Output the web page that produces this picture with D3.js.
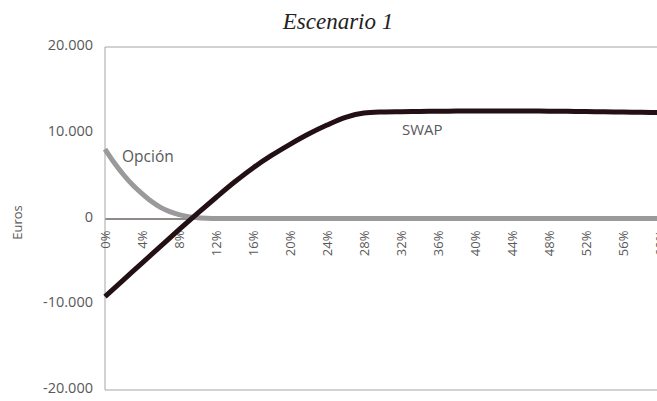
<!DOCTYPE html>
<html><head><meta charset="utf-8">
<script src="https://cdn.jsdelivr.net/npm/d3@7"></script>
<style>body{margin:0;background:#fff}svg{display:block}</style>
</head><body>
<script>
const rates = [0,2,4,6,8,10,12,14,16,18,20,22,24,26,28,30,32,34,36,38,40,42,44,46,48,50,52,54,56,58,60];
const swap = [-9100,-7150,-5200,-3250,-1300,600,2450,4250,5900,7350,8650,9850,10900,11800,12300,12420,12460,12490,12510,12530,12540,12550,12550,12540,12520,12500,12470,12440,12410,12380,12350];
const opcionRates = [0,1,2,3,4,5,6,7,8,9,10,11,12,14,20,30,40,50,60];
const opcion = [8100,6500,5100,3900,2900,2000,1300,800,450,220,90,30,0,0,0,0,0,0,0];
const xTicks = [0,4,8,12,16,20,24,28,32,36,40,44,48,52,56,60];
const yTicks = [-20000,-10000,0,10000,20000];

const W=657,H=401;
const svg=d3.select("body").append("svg").attr("width",W).attr("height",H);
const x=d3.scaleLinear().domain([0,60]).range([105,660]);
const y=d3.scaleLinear().domain([-20000,20000]).range([390,47]);
const font="'Open Sans', sans-serif";
const fmt=v=>v===0?"0":(v<0?"-":"")+d3.format(",")(Math.abs(v)).replace(/,/g,".");

svg.append("text").attr("x",338).attr("y",29).attr("text-anchor","middle")
  .attr("font-family","'Liberation Serif', serif").attr("font-style","italic")
  .attr("font-size",23).attr("fill","#222").text("Escenario 1");

// frame
svg.append("path").attr("d",`M${W},${y(20000)}H${x(0)}V${y(-20000)}H${W}`)
  .attr("fill","none").attr("stroke","#a6a6a6").attr("stroke-width",1);

// y labels
svg.append("g").selectAll("text").data(yTicks).join("text")
  .attr("x",93).attr("y",d=>y(d)-2).attr("dy","0.35em").attr("text-anchor","end")
  .attr("font-family",font).attr("font-size",14.5).attr("fill","#595959").text(fmt);

svg.append("text").attr("transform",`translate(17,${y(0)+4}) rotate(-90)`)
  .attr("text-anchor","middle").attr("dy","0.35em").attr("font-family",font)
  .attr("font-size",13).attr("fill","#595959").text("Euros");

// zero axis
const xAxis=d3.axisBottom(x).tickValues(xTicks).tickSize(0).tickFormat(d=>d+"%");
const gx=svg.append("g").attr("transform",`translate(0,${y(0)})`).call(xAxis);
gx.select(".domain").attr("stroke","#231416").attr("stroke-width",1);
gx.selectAll("text").attr("font-family",font).attr("font-size",13).attr("fill","#595959")
  .attr("text-anchor","end").attr("transform","rotate(-90)")
  .attr("x",-12).attr("y",0).attr("dy","0.35em");

const line=d3.line().curve(d3.curveMonotoneX);
svg.append("path").attr("d",line(opcionRates.map((r,i)=>[x(r),y(opcion[i])])))
  .attr("fill","none").attr("stroke","#9a9a9c").attr("stroke-width",5);
svg.append("path").attr("d",line(rates.map((r,i)=>[x(r),y(swap[i])])))
  .attr("fill","none").attr("stroke","#231015").attr("stroke-width",5);

svg.append("text").attr("x",402).attr("y",135).attr("font-family",font).attr("font-size",15)
  .attr("fill","#595959").text("SWAP");
svg.append("text").attr("x",122).attr("y",162).attr("font-family",font).attr("font-size",15.5)
  .attr("fill","#595959").text("Opción");
</script>
</body></html>
